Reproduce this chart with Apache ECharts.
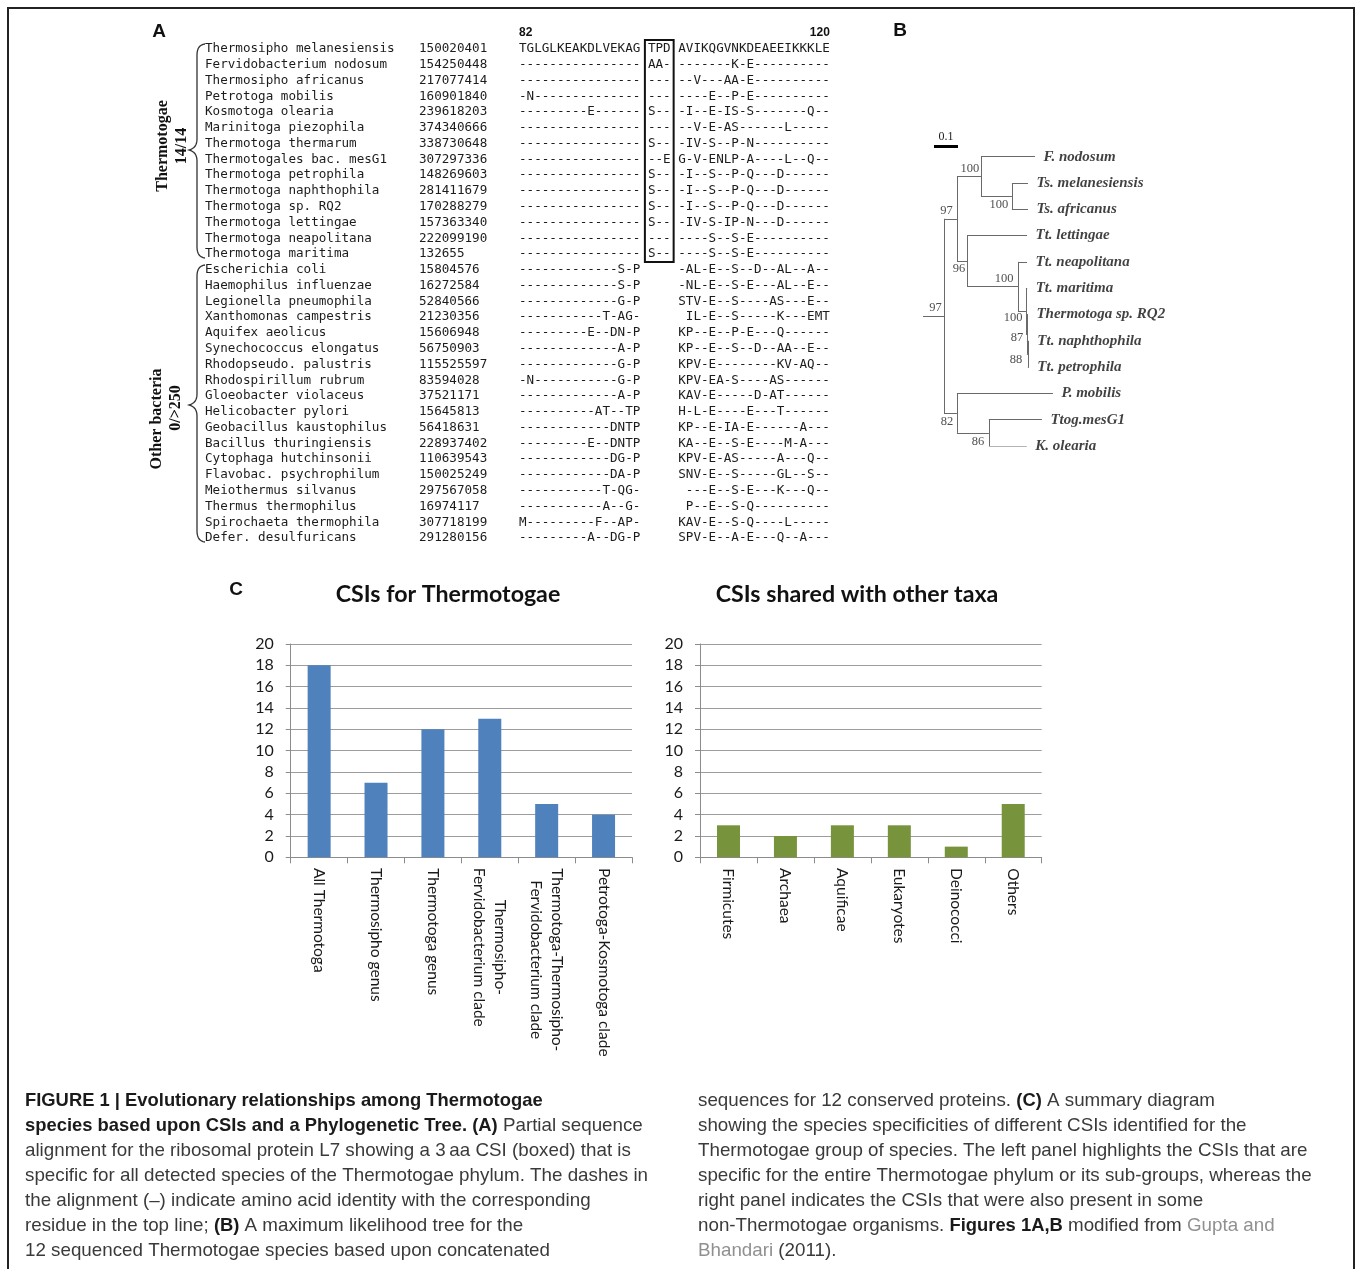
<!DOCTYPE html>
<html><head><meta charset="utf-8">
<script src="https://cdn.jsdelivr.net/npm/echarts@6.0.0/dist/echarts.min.js"></script>
<style>html,body{margin:0;padding:0;background:#fff}#c{width:1357px;height:1269px}</style>
</head><body><div id="c"></div>
<script>
// ================= Panel C data =================
const thermoCategories = ['All Thermotoga', 'Thermosipho genus', 'Thermotoga genus',
  'Thermosipho-\nFervidobacterium clade', 'Thermotoga-Thermosipho-\nFervidobacterium clade', 'Petrotoga-Kosmotoga clade'];
const thermoValues = [18, 7, 12, 13, 5, 4];
const sharedCategories = ['Firmicutes', 'Archaea', 'Aquificae', 'Eukaryotes', 'Deinococci', 'Others'];
const sharedValues = [3, 2, 3, 3, 1, 5];
const yTickMin = 0, yTickMax = 20, yTickStep = 2;
const chartTitles = ['CSIs for Thermotogae', 'CSIs shared with other taxa'];

// ================= Panel A data =================
const speciesNames = ['Thermosipho melanesiensis','Fervidobacterium nodosum','Thermosipho africanus','Petrotoga mobilis',
  'Kosmotoga olearia','Marinitoga piezophila','Thermotoga thermarum','Thermotogales bac. mesG1','Thermotoga petrophila',
  'Thermotoga naphthophila','Thermotoga sp. RQ2','Thermotoga lettingae','Thermotoga neapolitana','Thermotoga maritima',
  'Escherichia coli','Haemophilus influenzae','Legionella pneumophila','Xanthomonas campestris','Aquifex aeolicus',
  'Synechococcus elongatus','Rhodopseudo. palustris','Rhodospirillum rubrum','Gloeobacter violaceus','Helicobacter pylori',
  'Geobacillus kaustophilus','Bacillus thuringiensis','Cytophaga hutchinsonii','Flavobac. psychrophilum',
  'Meiothermus silvanus','Thermus thermophilus','Spirochaeta thermophila','Defer. desulfuricans'];
const accessions = ['150020401','154250448','217077414','160901840','239618203','374340666','338730648','307297336',
  '148269603','281411679','170288279','157363340','222099190','132655','15804576','16272584','52840566','21230356',
  '15606948','56750903','115525597','83594028','37521171','15645813','56418631','228937402','110639543','150025249',
  '297567058','16974117','307718199','291280156'];
const seqLeft = ['TGLGLKEAKDLVEKAG','----------------','----------------','-N--------------','---------E------',
  '----------------','----------------','----------------','----------------','----------------','----------------',
  '----------------','----------------','----------------',
  '-------------S-P','-------------S-P','-------------G-P','-----------T-AG-','---------E--DN-P','-------------A-P',
  '-------------G-P','-N-----------G-P','-------------A-P','----------AT--TP','------------DNTP','---------E--DNTP',
  '------------DG-P','------------DA-P','-----------T-QG-','-----------A--G-','M---------F--AP-','---------A--DG-P'];
const seqCSI = ['TPD','AA-','---','---','S--','---','S--','--E','S--','S--','S--','S--','---','S--',
  '   ','   ','   ','   ','   ','   ','   ','   ','   ','   ','   ','   ','   ','   ','   ','   ','   ','   '];
const seqRight = ['AVIKQGVNKDEAEEIKKKLE','-------K-E----------','--V---AA-E----------','----E--P-E----------',
  '-I--E-IS-S-------Q--','--V-E-AS------L-----','-IV-S--P-N----------','G-V-ENLP-A----L--Q--',
  '-I--S--P-Q---D------','-I--S--P-Q---D------','-I--S--P-Q---D------','-IV-S-IP-N---D------',
  '----S--S-E----------','----S--S-E----------',
  '-AL-E--S--D--AL--A--','-NL-E--S-E---AL--E--','STV-E--S----AS---E--',' IL-E--S-----K---EMT',
  'KP--E--P-E---Q------','KP--E--S--D--AA--E--','KPV-E--------KV-AQ--','KPV-EA-S----AS------',
  'KAV-E-----D-AT------','H-L-E----E---T------','KP--E-IA-E------A---','KA--E--S-E----M-A---',
  'KPV-E-AS-----A---Q--','SNV-E--S-----GL--S--',' ---E--S-E---K---Q--',' P--E--S-Q----------',
  'KAV-E--S-Q----L-----','SPV-E--A-E---Q--A---'];
const positionLabels = ['82', '120'];
const groupLabels = [['Thermotogae', '14/14'], ['Other bacteria', '0/>250']];

// ================= Panel B data =================
const treeLeaves = ['F. nodosum','Ts. melanesiensis','Ts. africanus','Tt. lettingae','Tt. neapolitana','Tt. maritima',
  'Thermotoga sp. RQ2','Tt. naphthophila','Tt. petrophila','P. mobilis','Ttog.mesG1','K. olearia'];
// b = branch length, s = bootstrap support, l = leaf index
const tree = {b: 0.0875, s: 97, c: [
  {b: 0.054, s: 97, c: [
    {b: 0.1, s: 100, c: [{b: 0.225, l: 0}, {b: 0.129, s: 100, c: [{b: 0.067, l: 1}, {b: 0.067, l: 2}]}]},
    {b: 0.042, s: 96, c: [{b: 0.25, l: 3}, {b: 0.2125, s: 100, c: [{b: 0.0375, l: 4},
      {b: 0.033, s: 100, c: [{b: 0.005, l: 5}, {b: 0.004, s: 87, c: [{b: 0.004, l: 6},
        {b: 0.004, s: 88, c: [{b: 0.004, l: 7}, {b: 0.004, l: 8}]}]}]}]}]}
  ]},
  {b: 0.054, s: 82, c: [{b: 0.4, l: 9}, {b: 0.133, s: 86, c: [{b: 0.221, l: 10}, {b: 0.158, l: 11}]}]}
]};
const scaleBarLength = 0.1;

// ================= Caption text =================
const captionLeft = [
  [['b','FIGURE 1 | Evolutionary relationships among Thermotogae']],
  [['b','species based upon CSIs and a Phylogenetic Tree. (A)'],['n',' Partial sequence']],
  [['n','alignment for the ribosomal protein L7 showing a 3\u2009aa CSI (boxed) that is']],
  [['n','specific for all detected species of the Thermotogae phylum. The dashes in']],
  [['n','the alignment (\u2013) indicate amino acid identity with the corresponding']],
  [['n','residue in the top line; '],['b','(B)'],['n',' A maximum likelihood tree for the']],
  [['n','12 sequenced Thermotogae species based upon concatenated']]
];
const captionRight = [
  [['n','sequences for 12 conserved proteins. '],['b','(C)'],['n',' A summary diagram']],
  [['n','showing the species specificities of different CSIs identified for the']],
  [['n','Thermotogae group of species. The left panel highlights the CSIs that are']],
  [['n','specific for the entire Thermotogae phylum or its sub-groups, whereas the']],
  [['n','right panel indicates the CSIs that were also present in some']],
  [['n','non-Thermotogae organisms. '],['b','Figures 1A,B'],['n',' modified from '],['g','Gupta and']],
  [['g','Bhandari'],['n',' (2011).']]
];

// ================= Build =================
const ctx = document.createElement('canvas').getContext('2d');
function measure(t, font) { ctx.font = font; return ctx.measureText(t).width; }

const axisFontSize = 15.5;
function catAxis(gi, cats, prefix) {
  const rich = {};
  cats.forEach((c, i) => {
    const w = Math.max(...c.split('\n').map(l => measure(l, axisFontSize + 'px Lato')));
    rich[prefix + i] = {width: Math.ceil(w) + 1, align: 'center', fontSize: axisFontSize, fontFamily: 'Lato',
      color: '#1a1a1a', lineHeight: 21};
  });
  return {
    gridIndex: gi, type: 'category', data: cats, boundaryGap: true,
    axisLine: {show: true, lineStyle: {color: '#8c8c8c', width: 1}},
    axisTick: {show: true, length: 6, alignWithLabel: false, lineStyle: {color: '#8c8c8c'}},
    axisLabel: {interval: 0, rotate: -90, margin: 10, rich: rich, fontFamily: 'Lato', fontSize: axisFontSize, color: '#1a1a1a',
      formatter: (v, i) => v.split('\n').map(l => '{' + prefix + i + '|' + l + '}').join('\n')},
    splitLine: {show: false}
  };
}
function valAxis(gi) {
  return {
    gridIndex: gi, type: 'value', min: yTickMin, max: yTickMax, interval: yTickStep,
    axisLine: {show: true, lineStyle: {color: '#8c8c8c', width: 1}},
    axisTick: {show: true, length: 5, inside: false, lineStyle: {color: '#8c8c8c'}},
    axisLabel: {margin: 17, fontFamily: 'Lato', fontSize: 16, color: '#1a1a1a'},
    splitLine: {show: true, lineStyle: {color: '#9c9c9c', width: 1}}
  };
}

// ---- tree layout ----
const treeSegs = [], leafPts = [], supportPts = [];
const supportOffsets = [[2,-8],[-4,-8.5],[1,-8],[2.5,9],[-3,8],[11.5,-8],[-9,7],[-9.5,3],[-11.5,6],[-3.5,9],[5,9]];
function layout(node, px) {
  node.px = px; node.x = px + node.b;
  if (node.l !== undefined) { node.y = node.l; return; }
  node.c.forEach(ch => layout(ch, node.x));
  node.y = (node.c[0].y + node.c[node.c.length - 1].y) / 2;
}
layout(tree, -tree.b);
let sIdx = 0;
function collect(node) {
  treeSegs.push({coords: [[node.px, node.y], [node.x, node.y]]});
  if (node.s !== undefined) {
    const off = supportOffsets[sIdx++] || [0, -8];
    supportPts.push({value: [(node.px + node.x) / 2, node.y], name: String(node.s), label: {offset: off}});
  }
  if (node.l !== undefined) { leafPts.push({value: [node.x, node.y], name: treeLeaves[node.l]}); return; }
  treeSegs.push({coords: [[node.x, node.c[0].y], [node.x, node.c[node.c.length - 1].y]]});
  node.c.forEach(collect);
}
collect(tree);

// ---- graphic elements ----
const G = [];
G.push({type: 'rect', shape: {x: 8, y: 8, width: 1346, height: 1330}, style: {fill: 'none', stroke: '#222', lineWidth: 2}, z: 0});
const panelFont = {fontFamily: 'Liberation Sans', fontWeight: 'bold', fontSize: 19, fill: '#111'};
[['A', 159, 32], ['B', 900, 31], ['C', 236, 590]].forEach(p =>
  G.push({type: 'text', x: p[1], y: p[2], style: Object.assign({text: p[0], textAlign: 'center', verticalAlign: 'middle'}, panelFont)}));

// alignment
const monoSize = 12.6, monoFont = 'DejaVu Sans Mono';
const charW = measure('M', monoSize + 'px "' + monoFont + '"');
const rowY0 = 49, rowStep = 15.774, nameX = 205, accX = 419, seqX = 519;
const mono = {fontFamily: monoFont, fontSize: monoSize, fill: '#1c1c1c', verticalAlign: 'middle'};
speciesNames.forEach((n, i) => {
  const y = rowY0 + i * rowStep;
  G.push({type: 'text', x: nameX, y: y, style: Object.assign({text: n}, mono)});
  G.push({type: 'text', x: accX, y: y, style: Object.assign({text: accessions[i]}, mono)});
  G.push({type: 'text', x: seqX, y: y, style: Object.assign({text: seqLeft[i] + ' ' + seqCSI[i] + ' ' + seqRight[i]}, mono)});
});
G.push({type: 'text', x: seqX, y: 33, style: {text: positionLabels[0], fontFamily: 'Liberation Sans', fontWeight: 'bold', fontSize: 12, fill: '#111', verticalAlign: 'middle', textAlign: 'left'}});
G.push({type: 'text', x: seqX + 41 * charW, y: 33, style: {text: positionLabels[1], fontFamily: 'Liberation Sans', fontWeight: 'bold', fontSize: 12, fill: '#111', verticalAlign: 'middle', textAlign: 'right'}});
const csiX = seqX + 17 * charW;
G.push({type: 'rect', shape: {x: csiX - 3, y: rowY0 - 9, width: 3 * charW + 6, height: 13 * rowStep + 17},
  style: {fill: 'none', stroke: '#111', lineWidth: 2}});
// braces (sampled quadratic curves)
function quad(p0, p1, p2, n) {
  const pts = [];
  for (let k = 0; k <= n; k++) { const t = k / n, u = 1 - t;
    pts.push([u * u * p0[0] + 2 * u * t * p1[0] + t * t * p2[0], u * u * p0[1] + 2 * u * t * p1[1] + t * t * p2[1]]); }
  return pts;
}
function bracePts(y1, y2, tipY) {
  return [].concat(
    quad([205, y1], [197, y1 + 1], [197, y1 + 11], 8),
    quad([197, tipY - 11], [197, tipY - 2], [189, tipY], 8),
    quad([189, tipY], [197, tipY + 2], [197, tipY + 11], 8),
    quad([197, y2 - 11], [197, y2 - 1], [205, y2], 8));
}
G.push({type: 'polyline', shape: {points: bracePts(44, 258, 150)}, style: {fill: null, stroke: '#333', lineWidth: 1.3}});
G.push({type: 'polyline', shape: {points: bracePts(265, 542, 405)}, style: {fill: null, stroke: '#333', lineWidth: 1.3}});
const vStyle = {fontFamily: 'Liberation Serif', fontWeight: 'bold', fontSize: 16, fill: '#111', textAlign: 'center', verticalAlign: 'middle'};
[[groupLabels[0][0], 163, 146], [groupLabels[0][1], 182, 146], [groupLabels[1][0], 157, 419], [groupLabels[1][1], 176, 408]].forEach(t =>
  G.push({type: 'text', x: t[1], y: t[2], rotation: Math.PI / 2, style: Object.assign({text: t[0]}, vStyle)}));

// chart titles
const titleStyle = {fontFamily: 'Lato', fontWeight: 'bold', fontSize: 23.2, fill: '#111', textAlign: 'center', verticalAlign: 'middle'};
G.push({type: 'text', x: 448, y: 595, style: Object.assign({text: chartTitles[0]}, titleStyle)});
G.push({type: 'text', x: 857, y: 595, style: Object.assign({text: chartTitles[1]}, titleStyle)});

// caption
const capSize = 19, capFam = 'Liberation Sans';
const capScale = 623 / measure(captionLeft[3][0][1], capSize + 'px "' + capFam + '"');
const capRich = {
  n: {fontSize: capSize, fontFamily: capFam, fontWeight: 'normal', fill: '#3a3a3a'},
  b: {fontSize: capSize - 0.4, fontFamily: capFam, fontWeight: 'bold', fill: '#1a1a1a'},
  g: {fontSize: capSize, fontFamily: capFam, fontWeight: 'normal', fill: '#909090'}
};
function addCaption(lines, x) {
  lines.forEach((segs, i) => {
    const txt = segs.map(s => '{' + s[0] + '|' + s[1] + '}').join('');
    G.push({type: 'text', x: x, y: 1101 + i * 25, scaleX: capScale,
      style: {text: txt, rich: capRich, fontSize: capSize, fontFamily: capFam, verticalAlign: 'middle', textAlign: 'left'}});
  });
}
addCaption(captionLeft, 25);
addCaption(captionRight, 698);

const option = {
  animation: false,
  backgroundColor: '#fff',
  grid: [
    {left: 290.7, top: 644, width: 341.3, height: 213.3, outerBoundsMode: 'none'},
    {left: 700, top: 644, width: 341.7, height: 213.3, outerBoundsMode: 'none'},
    {left: 920, top: 130.4, width: 264, height: 315.6, outerBoundsMode: 'none'}
  ],
  xAxis: [catAxis(0, thermoCategories, 't'), catAxis(1, sharedCategories, 's'),
    {gridIndex: 2, type: 'value', min: -0.1, max: 1.0, show: false}],
  yAxis: [valAxis(0), valAxis(1),
    {gridIndex: 2, type: 'value', min: -1, max: 11, inverse: true, show: false}],
  series: [
    {type: 'bar', xAxisIndex: 0, yAxisIndex: 0, data: thermoValues, barWidth: 23, itemStyle: {color: '#4F81BD'}},
    {type: 'bar', xAxisIndex: 1, yAxisIndex: 1, data: sharedValues, barWidth: 23, itemStyle: {color: '#77933C'}},
    {type: 'lines', coordinateSystem: 'cartesian2d', xAxisIndex: 2, yAxisIndex: 2, polyline: false, silent: true,
      data: treeSegs, lineStyle: {color: '#6a6a6a', width: 1, opacity: 1, curveness: 0}, effect: {show: false}},
    {type: 'lines', coordinateSystem: 'cartesian2d', xAxisIndex: 2, yAxisIndex: 2, polyline: false, silent: true,
      data: [{coords: [[-0.0417, -0.38], [-0.0417 + scaleBarLength, -0.38]]}],
      lineStyle: {color: '#000', width: 3, opacity: 1},
      label: {show: true, position: 'middle', formatter: String(scaleBarLength), fontFamily: 'Liberation Serif', fontSize: 12, color: '#222', distance: 4}},
    {type: 'scatter', xAxisIndex: 2, yAxisIndex: 2, data: leafPts, symbolSize: 1, silent: true,
      itemStyle: {color: 'transparent'},
      label: {show: true, position: 'right', distance: 8, formatter: '{b}', fontFamily: 'Liberation Serif',
        fontStyle: 'italic', fontWeight: 'bold', fontSize: 15, color: '#111'}},
    {type: 'scatter', xAxisIndex: 2, yAxisIndex: 2, data: supportPts, symbolSize: 1, silent: true,
      itemStyle: {color: 'transparent'},
      label: {show: true, position: 'inside', formatter: '{b}', fontFamily: 'Liberation Serif', fontSize: 12.5, color: '#222'}}
  ],
  graphic: {elements: G}
};
const chart = echarts.init(document.getElementById('c'), null, {renderer: 'canvas'});
chart.setOption(option);
</script></body></html>
